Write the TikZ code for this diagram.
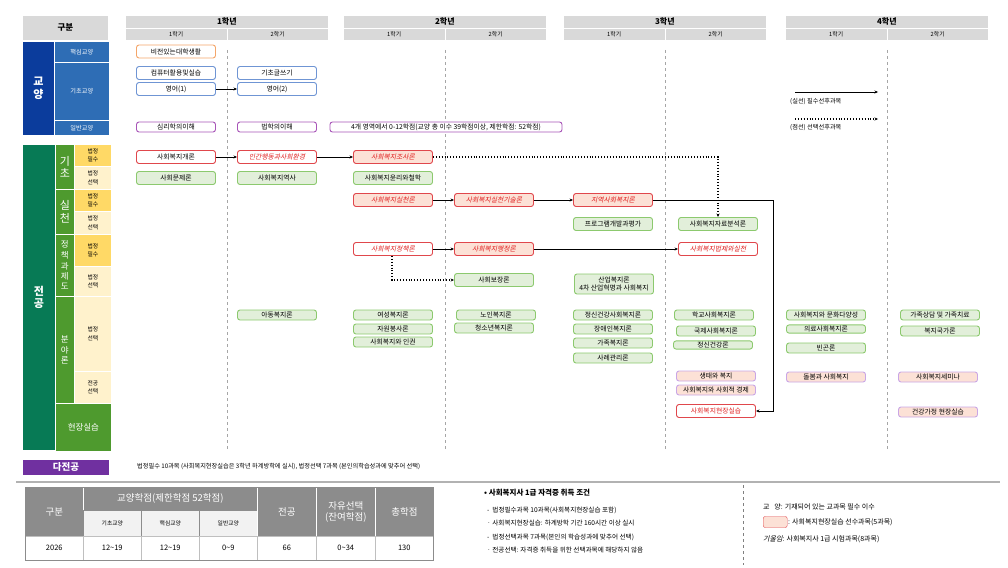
\documentclass[tikz,border=0pt]{standalone}
\usepackage{fontspec}
\setmainfont{Noto Sans CJK KR}
\newfontfamily\krit[FakeSlant=0.22]{Noto Sans CJK KR}
\usetikzlibrary{arrows.meta}
\definecolor{hdr}{HTML}{D9D9D9}
\definecolor{dblue}{HTML}{0B3C9C}
\definecolor{mblue}{HTML}{2E6DB5}
\definecolor{dgreen}{HTML}{077A55}
\definecolor{mgreen}{HTML}{4E9A2E}
\definecolor{ylw}{HTML}{FFD966}
\definecolor{lylw}{HTML}{FFF2CC}
\definecolor{purp}{HTML}{7030A0}
\definecolor{bbord}{HTML}{6F95D4}
\definecolor{obord}{HTML}{F4A66A}
\definecolor{pbord}{HTML}{A855B8}
\definecolor{rbord}{HTML}{E0474C}
\definecolor{pinkf}{HTML}{FCE1D6}
\definecolor{gbord}{HTML}{8CC96E}
\definecolor{gfill}{HTML}{E2EFDA}
\definecolor{ebord}{HTML}{C9A6E6}
\definecolor{tgray}{HTML}{8C8C8C}
\definecolor{rtext}{HTML}{E02020}
\tikzset{
 cell/.style={anchor=north west,inner sep=0,draw=white,line width=0.8pt,align=center},
 crs/.style={draw,rounded corners=2.5pt,minimum width=79pt,minimum height=13pt,inner sep=1pt,line width=0.9pt,font=\fontsize{6.8}{7.5}\selectfont,align=center},
 bl/.style={crs,draw=bbord,fill=white},
 orb/.style={crs,draw=obord,fill=white},
 pu/.style={crs,draw=pbord,fill=white,minimum height=10pt},
 rd/.style={crs,draw=rbord,fill=white},
 rdp/.style={crs,draw=rbord,fill=pinkf},
 gr/.style={crs,draw=gbord,fill=gfill},
 grs/.style={gr,minimum height=10pt},
 el/.style={crs,draw=ebord,fill=pinkf,minimum height=10pt},
 it/.style={text=rtext,font=\fontsize{6.8}{7.5}\selectfont\krit},
 arr/.style={-{Stealth[length=3.5pt,width=3pt]},line width=0.9pt},
 dot/.style={arr,dotted,line width=1.1pt},
 vsep/.style={dashed,gray!70,line width=0.6pt},
}
\begin{document}
\begin{tikzpicture}[x=1pt,y=-1pt]
\useasboundingbox (0,0) rectangle (1008,567);
% headers
\node[cell,fill=hdr,minimum width=86,minimum height=25,font=\fontsize{8.5}{9}\selectfont\bfseries] (gb) at (22,15) {구분};
\foreach \x/\n/\t in {125/y1/1학년,343/y2/2학년,563/y3/3학년,785/y4/4학년}{
 \node[cell,fill=hdr,minimum width=203,minimum height=13,font=\fontsize{8}{8.5}\selectfont\bfseries] (\n) at (\x,15) {\t};
 \node[cell,fill=hdr,minimum width=101.5,minimum height=12,font=\fontsize{5.8}{6}\selectfont] (\n a) at (\x,28) {1학기};
 \node[cell,fill=hdr,minimum width=101.5,minimum height=12,font=\fontsize{5.8}{6}\selectfont] (\n b) at (\x+101.5,28) {2학기};
}
\foreach \x in {227,445,665,887}{\draw[vsep] (\x,50) -- (\x,450);}
% left column
\tikzset{lf/.style={cell,text=white,font=\fontsize{6.2}{7}\selectfont},lb/.style={cell,font=\fontsize{5.8}{6.3}\selectfont}}
\node[cell,fill=dblue,minimum width=32,minimum height=94,text=white,font=\fontsize{11}{12.5}\selectfont\bfseries] (gy) at (22,41) {\shortstack{교\\양}};
\node[lf,fill=mblue,minimum width=55,minimum height=21] (hs) at (54,41) {핵심교양};
\node[lf,fill=mblue,minimum width=55,minimum height=58] (gc) at (54,62) {기초교양};
\node[lf,fill=mblue,minimum width=55,minimum height=15] (ib) at (54,120) {일반교양};
\node[cell,fill=dgreen,minimum width=33,minimum height=306,text=white,font=\fontsize{11}{12.5}\selectfont\bfseries] (jg) at (22,144) {\shortstack{전\\공}};
\node[cell,fill=mgreen,minimum width=19,minimum height=45,text=white,font=\fontsize{11}{12.5}\selectfont] (gic) at (55,144) {\shortstack{기\\초}};
\node[cell,fill=mgreen,minimum width=19,minimum height=45,text=white,font=\fontsize{11}{12.5}\selectfont] (sc) at (55,189) {\shortstack{실\\천}};
\node[cell,fill=mgreen,minimum width=19,minimum height=62,text=white,font=\fontsize{8.5}{9.5}\selectfont] (jc) at (55,234) {\shortstack{정\\책\\과\\제\\도}};
\node[cell,fill=mgreen,minimum width=19,minimum height=107,text=white,font=\fontsize{8.5}{9.5}\selectfont] (by) at (55,296) {\shortstack{분\\야\\론}};
\node[cell,fill=mgreen,minimum width=56,minimum height=48,text=white,font=\fontsize{8.5}{9}\selectfont] (hj) at (55,403) {현장실습};
\node[lb,fill=ylw,minimum width=37,minimum height=22] (l1) at (74,144) {\shortstack{법정\\필수}};
\node[lb,fill=lylw,minimum width=37,minimum height=23] (l2) at (74,166) {\shortstack{법정\\선택}};
\node[lb,fill=ylw,minimum width=37,minimum height=22] (l3) at (74,189) {\shortstack{법정\\필수}};
\node[lb,fill=lylw,minimum width=37,minimum height=23] (l4) at (74,211) {\shortstack{법정\\선택}};
\node[lb,fill=ylw,minimum width=37,minimum height=32] (l5) at (74,234) {\shortstack{법정\\필수}};
\node[lb,fill=lylw,minimum width=37,minimum height=30] (l6) at (74,266) {\shortstack{법정\\선택}};
\node[lb,fill=lylw,minimum width=37,minimum height=75] (l7) at (74,296) {\shortstack{법정\\선택}};
\node[lb,fill=lylw,minimum width=37,minimum height=32] (l8) at (74,371) {\shortstack{전공\\선택}};
\node[cell,fill=purp,minimum width=87,minimum height=16,text=white,font=\fontsize{9.5}{10}\selectfont\bfseries] (dj) at (22,459) {다전공};
\node[anchor=west,font=\fontsize{6.2}{7}\selectfont,inner sep=0] (djt) at (137,467) {법정필수 10과목 (사회복지현장실습은 3학년 하계방학에 실시), 법정선택 7과목 (본인의학습성과에 맞추어 선택)};
\draw[gray!60,line width=1.5pt] (16,482) -- (1000,482);
% courses
\node[orb] (c1) at (176,51.5) {비전있는대학생활};
\node[bl] (c2) at (176,73) {컴퓨터활용및실습};
\node[bl] (c3) at (176,89) {영어(1)};
\node[bl] (c4) at (277,73) {기초글쓰기};
\node[bl] (c5) at (277,89) {영어(2)};
\draw[arr] (c3) -- (c5);
\node[pu] (c6) at (176,127) {심리학의이해};
\node[pu] (c7) at (277,127) {법학의이해};
\node[pu,minimum width=232] (c8) at (446,127) {4개 영역에서 0-12학점(교양 총 이수 39학점이상, 제한학점: 52학점)};
\node[rd] (m1) at (176,157) {사회복지개론};
\node[rd,it] (m2) at (277,157) {인간행동과사회환경};
\node[rdp,it] (m3) at (393,157) {사회복지조사론};
\draw[arr] (m1) -- (m2); \draw[arr] (m2) -- (m3);
\node[gr] (g1) at (176,178) {사회문제론};
\node[gr] (g2) at (277,178) {사회복지역사};
\node[gr] (g3) at (393,178) {사회복지윤리와철학};
\node[rdp,it] (m4) at (393,200) {사회복지실천론};
\node[rdp,it] (m5) at (494,200) {사회복지실천기술론};
\node[rdp,it] (m6) at (613,200) {지역사회복지론};
\draw[arr] (m4) -- (m5); \draw[arr] (m5) -- (m6);
\node[gr] (g4) at (613,224) {프로그램개발과평가};
\node[gr] (g5) at (718,224) {사회복지자료분석론};
\draw[dot] (m3.east) -| (g5.north);
\node[rd,it] (m7) at (393,249) {사회복지정책론};
\node[rdp,it] (m8) at (494,249) {사회복지행정론};
\node[rd,it] (m9) at (718,249) {사회복지법제와실천};
\draw[arr] (m7) -- (m8); \draw[arr] (m8) -- (m9);
\node[gr] (g6) at (494,280) {사회보장론};
\draw[dot] (m7.south -| 392,0) |- (g6.west);
\node[gr,minimum height=20] (g7) at (614,284) {산업복지론\\4차 산업혁명과 사회복지};
\node[grs] (g8) at (277,315) {아동복지론};
\node[grs] (g9) at (393,315) {여성복지론};
\node[grs] (g10) at (393,329) {자원봉사론};
\node[grs] (g11) at (393,342) {사회복지와 인권};
\node[grs] (g12) at (496,315) {노인복지론};
\node[grs] (g13) at (494,328) {청소년복지론};
\node[grs] (g14) at (613,315) {정신건강사회복지론};
\node[grs] (g15) at (613,329) {장애인복지론};
\node[grs] (g16) at (613,343) {가족복지론};
\node[grs] (g17) at (613,358) {사례관리론};
\node[grs] (g18) at (714,315) {학교사회복지론};
\node[grs] (g19) at (716,331) {국제사회복지론};
\node[grs,minimum height=8] (g20) at (713,345) {정신건강론};
\node[grs] (g21) at (826,315) {사회복지와 문화다양성};
\node[grs,minimum height=8] (g22) at (826,329) {의료사회복지론};
\node[grs] (g23) at (826,348) {빈곤론};
\node[grs] (g24) at (940,315) {가족상담 및 가족치료};
\node[grs] (g25) at (940,331) {복지국가론};
\node[el] (e1) at (716,376) {생태와 복지};
\node[el] (e2) at (716,390) {사회복지와 사회적 경제};
\node[el] (e3) at (826,377) {돌봄과 사회복지};
\node[el] (e4) at (938,377) {사회복지세미나};
\node[el] (e5) at (938,412) {건강가정 현장실습};
\node[rd,text=rtext] (m10) at (716,411) {사회복지현장실습};
\coordinate (k1) at (773,200);
\coordinate (k2) at (773,411);
\draw[arr] (m6.east) -- (k1) -- (k2) -- (m10.east);
% legend
\coordinate (la) at (795,92); \coordinate (lb) at (878,92);
\coordinate (lc) at (795,119); \coordinate (ld) at (878,119);
\draw[arr] (la) -- (lb);
\node[anchor=west,inner sep=0,font=\fontsize{6.2}{7}\selectfont] (lt1) at (790,102) {(실선) 필수선후과목};
\draw[dot] (lc) -- (ld);
\node[anchor=west,inner sep=0,font=\fontsize{6.2}{7}\selectfont] (lt2) at (790,128) {(점선) 선택선후과목};
% table
\tikzset{th/.style={cell,fill=tgray,text=white,font=\fontsize{9.5}{10.5}\selectfont},
 ts/.style={cell,draw=tgray,fill=gray!10,font=\fontsize{5.8}{6}\selectfont},
 td/.style={cell,draw=gray!50,line width=0.5pt,fill=white,font=\fontsize{7.5}{8}\selectfont}}
\node[th,minimum width=58,minimum height=49] (t1) at (25,487) {구분};
\node[th,minimum width=174,minimum height=23] (t2) at (83,487) {교양학점(제한학점 52학점)};
\node[ts,minimum width=58,minimum height=26] (t3) at (83,510) {기초교양};
\node[ts,minimum width=58,minimum height=26] (t4) at (141,510) {핵심교양};
\node[ts,minimum width=58,minimum height=26] (t5) at (199,510) {일반교양};
\node[th,minimum width=59,minimum height=49] (t6) at (257,487) {전공};
\node[th,minimum width=59,minimum height=49] (t7) at (316,487) {\shortstack{자유선택\\(잔여학점)}};
\node[th,minimum width=58,minimum height=49] (t8) at (375,487) {총학점};
\foreach \x/\w/\t [count=\i] in {25/58/2026,83/58/12\textasciitilde 19,141/58/12\textasciitilde 19,199/58/0\textasciitilde 9,257/59/66,316/59/0\textasciitilde 34,375/58/130}
 \node[td,minimum width=\w,minimum height=24] (d\i) at (\x,536) {\t};
\draw[tgray,line width=0.8pt] (25,487) rectangle (433,560);
% notes
\node[anchor=west,inner sep=0,font=\fontsize{7.5}{8}\selectfont\bfseries] (n0) at (484,493) {• 사회복지사 1급 자격증 취득 조건};
\node[anchor=west,inner sep=0,font=\fontsize{6.6}{7}\selectfont] (n1) at (487,510) {-\ \ 법정필수과목 10과목(사회복지현장실습 포함)};
\node[anchor=west,inner sep=0,font=\fontsize{6.6}{7}\selectfont] (n2) at (487,523) {· 사회복지현장실습: 하계방학 기간 160시간 이상 실시};
\node[anchor=west,inner sep=0,font=\fontsize{6.6}{7}\selectfont] (n3) at (487,537) {-\ \ 법정선택과목 7과목(본인의 학습성과에 맞추어 선택)};
\node[anchor=west,inner sep=0,font=\fontsize{6.6}{7}\selectfont] (n4) at (487,550) {· 전공선택: 자격증 취득을 위한 선택과목에 해당하지 않음};
\draw[dashed,gray,line width=0.8pt] (743,485) -- (743,565);
\node[anchor=west,inner sep=0,font=\fontsize{7}{7.5}\selectfont] (r1) at (763,507) {교\ \ \ 양: 기재되어 있는 교과목 필수 이수};
\node[draw=rbord,fill=pinkf,rounded corners=2pt,minimum width=24,minimum height=11,inner sep=0,anchor=west] (r2b) at (763,522) {};
\node[anchor=west,inner sep=0,font=\fontsize{7}{7.5}\selectfont] (r2) at (788,522) {: 사회복지현장실습 선수과목(5과목)};
\node[anchor=west,inner sep=0,font=\fontsize{7}{7.5}\selectfont] (r3) at (763,539) {{\krit 기울임}: 사회복지사 1급 시험과목(8과목)};
\end{tikzpicture}
\end{document}
